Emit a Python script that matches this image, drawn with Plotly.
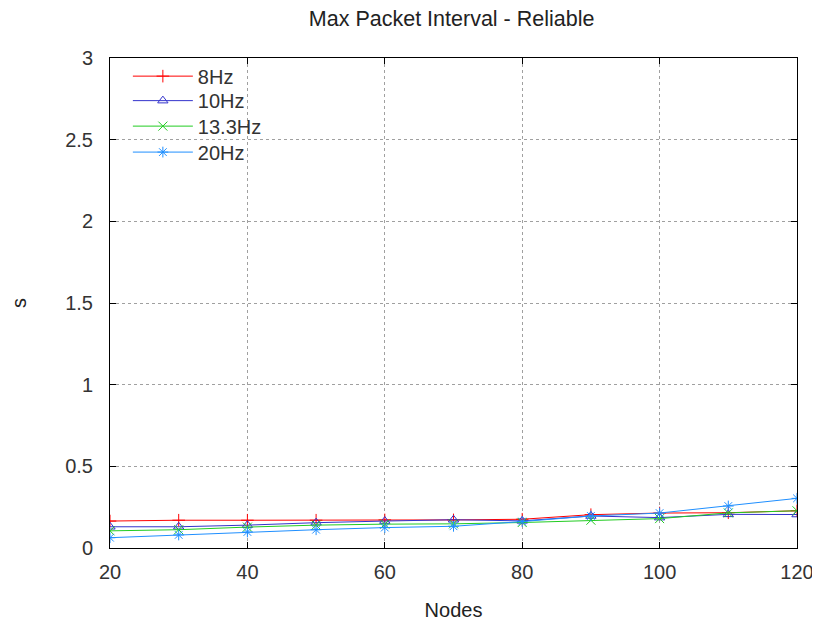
import plotly.graph_objects as go

nodes = [20, 30, 40, 50, 60, 70, 80, 90, 100, 110, 120]
hz8 = [0.165, 0.170, 0.170, 0.170, 0.172, 0.172, 0.176, 0.204, 0.214, 0.216, 0.228]
hz10 = [0.130, 0.130, 0.140, 0.155, 0.165, 0.173, 0.166, 0.196, 0.186, 0.206, 0.205]
hz13 = [0.105, 0.112, 0.128, 0.140, 0.146, 0.148, 0.156, 0.170, 0.180, 0.215, 0.228]
hz20 = [0.063, 0.080, 0.098, 0.112, 0.125, 0.133, 0.162, 0.196, 0.214, 0.257, 0.304]

series = [
    ("8Hz", hz8, "#ff0000", "cross-thin-open"),
    ("10Hz", hz10, "#3333cc", "triangle-up-open"),
    ("13.3Hz", hz13, "#22cc22", "x-thin-open"),
    ("20Hz", hz20, "#1f8fff", "asterisk-open"),
]
legend_rows = [0.963, 0.913, 0.861, 0.808]

font = "Liberation Sans, Arial, sans-serif"

fig = go.Figure()
legends = {}
for i, (name, ys, color, sym) in enumerate(series):
    lname = "legend" if i == 0 else f"legend{i + 1}"
    fig.add_trace(go.Scatter(
        x=nodes, y=ys, name=name, mode="lines+markers",
        line=dict(color=color, width=1),
        marker=dict(symbol=sym, size=9, color=color, line=dict(color=color, width=1)),
        legend=lname,
    ))
    legends[lname] = dict(
        x=0.026, y=legend_rows[i], xanchor="left", yanchor="middle",
        bgcolor="rgba(0,0,0,0)", borderwidth=0,
        font=dict(size=20, color="#333333", family=font), itemwidth=60,
    )

axis_common = dict(
    showline=True, linecolor="black", linewidth=1, mirror="ticks",
    ticks="inside", ticklen=6, tickcolor="black",
    showgrid=True, gridcolor="#a0a0a0", griddash="dot", gridwidth=1,
    zeroline=False, tickfont=dict(size=20, color="#333333", family=font),
    automargin=False,
)

fig.update_layout(
    width=820, height=621,
    paper_bgcolor="white", plot_bgcolor="white",
    margin=dict(l=102, r=31, t=50, b=81),
    title=dict(text="Max Packet Interval - Reliable", x=0.541, xanchor="center",
               y=0.995, yanchor="top", pad=dict(t=0, b=0),
               font=dict(size=21.5, color="#222222", family=font)),
    xaxis=dict(range=[20, 120], tickvals=[20, 40, 60, 80, 100, 120],
               ticklabelstandoff=6,
               title=dict(text="Nodes", font=dict(size=20, color="#222222", family=font), standoff=20),
               **axis_common),
    yaxis=dict(range=[0, 3], tickvals=[0, 0.5, 1, 1.5, 2, 2.5, 3],
               ticktext=["0", "0.5", "1", "1.5", "2", "2.5", "3"],
               ticklabelstandoff=12,
               title=dict(text="s", font=dict(size=20, color="#222222", family=font), standoff=57),
               **axis_common),
    showlegend=True,
    **legends,
)

fig.write_html("out.html")
